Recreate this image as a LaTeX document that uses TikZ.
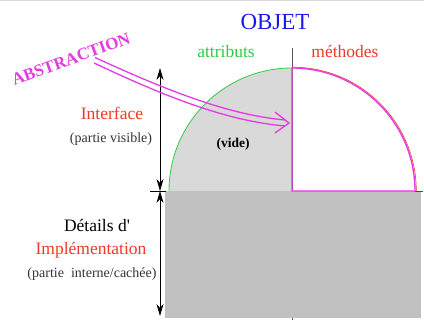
\documentclass[tikz,border=0pt]{standalone}
\usepackage{fontspec}
\setmainfont{Liberation Serif}
\usetikzlibrary{arrows.meta}
\definecolor{mag}{HTML}{E53AE5}
\definecolor{txtred}{HTML}{EE3A2A}
\definecolor{grn}{HTML}{2FCC4A}
\definecolor{blu}{HTML}{1A1AEE}
\definecolor{lgray}{HTML}{D9D9D9}
\definecolor{mgray}{HTML}{C0C0C0}
\definecolor{dtxt}{HTML}{333333}
\begin{document}
\begin{tikzpicture}[x=1pt,y=-1pt,
  lbl/.style={anchor=base,inner sep=0pt,font=\fontsize{17.5}{20}\selectfont},
  small/.style={anchor=base,inner sep=0pt,font=\fontsize{14}{16}\selectfont,text=dtxt},
  dimarrow/.style={black,line width=0.8pt,{Stealth[length=12pt,width=7pt]}-{Stealth[length=12pt,width=7pt]}},
  absline/.style={mag,line width=1.3pt}]
\useasboundingbox (0,0) rectangle (424,320);
\fill[white] (0,0) rectangle (424,320);
\draw[lgray,line width=1.5pt] (0,0.75) -- (424,0.75);
\coordinate (C) at (292,191);
\coordinate (divtop) at (292,48);
\coordinate (divbot) at (292,320);
\draw[gray!70!black,line width=1pt] (divtop) -- (divbot);
% implementation block
\fill[mgray] (165,191) rectangle (421,318);
% attributes quarter
\fill[lgray] (C) -- (169,191) arc[start angle=180,end angle=270,radius=123] -- cycle;
\draw[grn,line width=0.8pt] (169,191) arc[start angle=180,end angle=270,radius=123];
% methods quarter
\draw[txtred,line width=0.6pt] (292.5,67.2) arc[start angle=270,end angle=360,radius=123.8];
\draw[mag,line width=1.4pt] (C) -- (292,68) arc[start angle=270,end angle=360,radius=123] -- cycle;
% base line ticks
\coordinate (tickL) at (150,191);
\coordinate (tickR) at (166,191);
\draw[black,line width=0.8pt] (tickL) -- (tickR);
\draw[gray!60!black,line width=0.8pt] (415,191) -- (423,191);
% dimension arrows
\coordinate (t1) at (160,68);
\coordinate (m1) at (160,191);
\coordinate (b1) at (160,316);
\draw[dimarrow] (t1) -- (m1);
\draw[dimarrow] (m1) -- (b1);
% texts
\node[lbl,text=blu,font=\fontsize{23}{26}\selectfont] (objet) at (275,30) {OBJET};
\node[lbl,text=grn] (attr) at (226,58) {attributs};
\node[lbl,text=txtred] (meth) at (345,58) {méthodes};
\node[lbl,text=txtred] (interface) at (112,120) {Interface};
\node[small] (visible) at (111,143) {(partie visible)};
\node[anchor=base,inner sep=0pt,font=\fontsize{13.5}{16}\selectfont\bfseries] (vide) at (233,148) {(vide)};
\node[lbl,text=black] (details) at (97,232) {Détails d\textquotesingle};
\node[lbl,text=txtred] (impl) at (91,255) {Implémentation};
\node[small] (cachee) at (92,278) {(partie\ \ interne/cachée)};
\node[text=mag,inner sep=0pt,rotate=20,font=\fontsize{17}{18}\selectfont\bfseries] (abs) at (71,59) {ABSTRACTION};
% abstraction double arrow
\coordinate (u0) at (95,57.5);
\coordinate (u1) at (285,120);
\coordinate (l0) at (94,63);
\coordinate (l1) at (285,126);
\coordinate (tip) at (289,123);
\coordinate (barbA) at (275,112);
\coordinate (barbB) at (275,133);
\draw[absline] (u0) .. controls (170,92) and (230,115) .. (u1);
\draw[absline] (l0) .. controls (168,98) and (228,121) .. (l1);
\draw[absline,line join=miter] (barbA) -- (tip) -- (barbB);
\end{tikzpicture}
\end{document}
